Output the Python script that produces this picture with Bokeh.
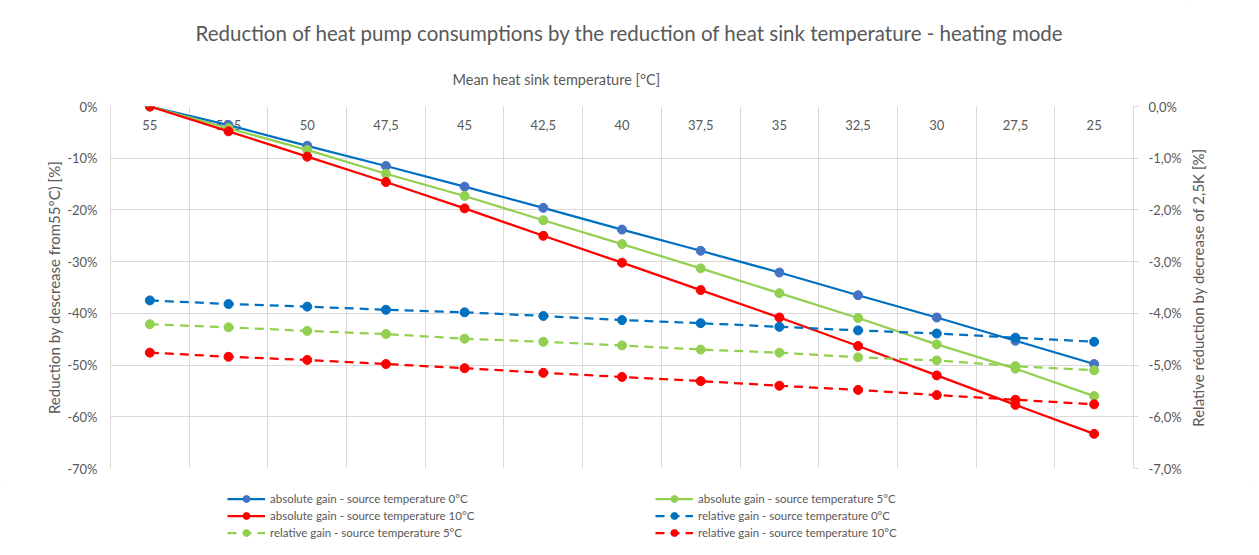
import math
from bokeh.plotting import figure
from bokeh.layouts import column, row
from bokeh.models import (Range1d, LinearAxis, FixedTicker, Grid, CustomJSTickFormatter,
                          Title, Legend, LegendItem, ColumnDataSource, Label)
from bokeh.core.properties import value
from bokeh.embed import file_html
from bokeh.resources import INLINE

# ---- data ----
temps = ["55", "52,5", "50", "47,5", "45", "42,5", "40", "37,5", "35", "32,5", "30", "27,5", "25"]
abs_0 = [0, -3.6, -7.6, -11.5, -15.5, -19.6, -23.8, -27.9, -32.1, -36.5, -40.8, -45.3, -49.8]
abs_5 = [0, -4.2, -8.4, -13.0, -17.3, -22.0, -26.6, -31.3, -36.1, -40.9, -46.0, -50.7, -56.0]
abs_10 = [0, -4.8, -9.7, -14.6, -19.7, -25.0, -30.2, -35.5, -40.8, -46.3, -52.0, -57.7, -63.3]
rel_0 = [-3.75, -3.82, -3.87, -3.93, -3.98, -4.05, -4.13, -4.19, -4.26, -4.33, -4.39, -4.47, -4.55]
rel_5 = [-4.21, -4.27, -4.34, -4.40, -4.49, -4.55, -4.62, -4.70, -4.76, -4.85, -4.91, -5.02, -5.10]
rel_10 = [-4.76, -4.84, -4.90, -4.98, -5.06, -5.15, -5.23, -5.31, -5.40, -5.48, -5.58, -5.67, -5.76]

title_text = "Reduction of heat pump consumptions by the reduction of heat sink temperature - heating mode"
x_title = "Mean heat sink temperature [°C]"
y_title = "Reduction by descrease from55°C) [%]"
y2_title = "Relative réduction by decrease of 2,5K [%]"
legend_labels = [
    "absolute gain - source temperature 0°C",
    "absolute gain - source temperature 5°C",
    "absolute gain - source temperature 10°C",
    "relative gain - source temperature 0°C",
    "relative gain - source temperature 5°C",
    "relative gain - source temperature 10°C",
]

FONT = "Lato"
TXT = "#595959"
GRID = "#d9d9d9"
BLUE = "#0070C0"
BLUE_M = "#4472C4"
GREEN = "#92D050"
RED = "#FF0000"

W = 1258
PW = 1185
H_MAIN = 480
H_LEG = 74

xs = [i + 0.5 for i in range(len(temps))]

p = figure(width=PW, height=H_MAIN, output_backend="svg", toolbar_location=None,
           x_range=Range1d(0, len(temps)), y_range=Range1d(-70, 0),
           x_axis_type=None, y_axis_location="left",
           min_border_left=110, min_border_right=PW - 1133, min_border_top=106,
           min_border_bottom=H_MAIN - 468)
p.outline_line_color = None
p.background_fill_color = "white"
p.border_fill_color = "white"
p.extra_y_ranges = {"rel": Range1d(-7, 0)}

# main title
p.title.text = title_text
p.title.align = "left"
p.title.offset = 85
p.title.text_font = FONT
p.title.text_font_size = "20.5px"
p.title.text_font_style = "normal"
p.title.text_color = TXT
p.title.standoff = 12

# top axis title (closest to the frame)
p.add_layout(Title(text=x_title, align="left", offset=342, text_font=FONT,
                   text_font_size="14.5px", text_font_style="normal", text_color=TXT,
                   standoff=37), "above")

# grids
p.ygrid.ticker = FixedTicker(ticks=[-70, -60, -50, -40, -30, -20, -10, 0])
p.ygrid.grid_line_color = GRID
p.ygrid.grid_line_width = 1
p.add_layout(Grid(dimension=0, ticker=FixedTicker(ticks=list(range(len(temps) + 1))),
                  grid_line_color=GRID, grid_line_width=1))

# left axis
ya = p.yaxis[0]
ya.ticker = FixedTicker(ticks=[-70, -60, -50, -40, -30, -20, -10, 0])
ya.formatter = CustomJSTickFormatter(code="return tick + '%';")
ya.axis_line_color = GRID
ya.major_tick_line_color = None
ya.major_tick_out = 0
ya.major_tick_in = 0
ya.minor_tick_line_color = None
ya.minor_tick_out = 0
ya.minor_tick_in = 0
ya.major_label_standoff = 13
ya.major_label_text_font = FONT
ya.major_label_text_font_size = "13px"
ya.major_label_text_color = TXT
ya.axis_label = y_title
ya.axis_label_text_font = FONT
ya.axis_label_text_font_size = "15px"
ya.axis_label_text_font_style = "normal"
ya.axis_label_text_color = TXT
ya.axis_label_standoff = 1

# right axis (its title is drawn in the strip to the right, reading upwards)
y2 = LinearAxis(y_range_name="rel",
                ticker=FixedTicker(ticks=[-7, -6, -5, -4, -3, -2, -1, 0]),
                formatter=CustomJSTickFormatter(code="return tick.toFixed(1).replace('.', ',') + '%';"),
                axis_line_color=GRID, major_tick_line_color=GRID, major_tick_out=5, major_tick_in=0,
                minor_tick_line_color=None, minor_tick_out=0, minor_tick_in=0,
                major_label_standoff=10,
                major_label_text_font=FONT, major_label_text_font_size="13px",
                major_label_text_color=TXT)
p.add_layout(y2, "right")

# category labels under top axis line
src_lab = ColumnDataSource(dict(x=xs, y=[0] * len(xs), t=temps))
p.text(x="x", y="y", text="t", source=src_lab, text_align="center", text_baseline="middle",
       y_offset=18, text_font=value(FONT), text_font_size="13px", text_color=TXT)

# series
series_def = [
    (abs_0, BLUE, BLUE_M, "solid", None),
    (abs_5, GREEN, GREEN, "solid", None),
    (abs_10, RED, RED, "solid", None),
    (rel_0, BLUE, BLUE, "9 6", "rel"),
    (rel_5, GREEN, GREEN, "9 6", "rel"),
    (rel_10, RED, RED, "9 6", "rel"),
]

for vals, color, mcolor, dash, rng in series_def:
    kw = {} if rng is None else {"y_range_name": rng}
    p.line(xs, vals, line_color=color, line_width=2.25, line_dash=dash, **kw)
    p.scatter(xs, vals, size=9, fill_color=mcolor, line_color=mcolor, **kw)

# ---- strip on the right holding the secondary axis title ----
r = figure(width=W - PW, height=H_MAIN, output_backend="svg", toolbar_location=None,
           x_range=Range1d(0, 1), y_range=Range1d(-7, 0),
           x_axis_type=None, y_axis_type=None,
           min_border_left=0, min_border_right=0, min_border_top=0, min_border_bottom=0)
r.outline_line_color = None
r.xgrid.visible = False
r.ygrid.visible = False
r.border_fill_color = "white"
r.background_fill_color = "white"
r.add_layout(Label(x=12, y=-3.5, x_units="screen", y_units="data", text=y2_title,
                   angle=math.pi / 2, text_align="center", text_baseline="middle",
                   text_font=FONT, text_font_size="15px", text_color=TXT))

# ---- legend strip below the chart (legend glyphs mirror the series styles) ----
q = figure(width=W, height=H_LEG, output_backend="svg", toolbar_location=None,
           x_range=Range1d(0, 1), y_range=Range1d(0, 1),
           x_axis_type=None, y_axis_type=None,
           min_border_left=0, min_border_right=0, min_border_top=0, min_border_bottom=0)
q.outline_line_color = None
q.xgrid.visible = False
q.ygrid.visible = False
q.border_fill_color = "white"
q.background_fill_color = "white"

items = []
for (vals, color, mcolor, dash, rng), lab in zip(series_def, legend_labels):
    l = q.line(xs, vals, line_color=color, line_width=2.25, line_dash=dash, visible=False)
    s = q.scatter(xs, vals, size=9, fill_color=mcolor, line_color=mcolor, visible=False)
    items.append(LegendItem(label=lab, renderers=[l, s]))

lg = Legend(items=items, location=(227, 13), orientation="horizontal", ncols=2,
            glyph_width=38, glyph_height=17, label_height=17, label_width=385, spacing=0,
            padding=0, margin=0, label_standoff=5,
            label_text_font=FONT, label_text_font_size="11.5px", label_text_color=TXT,
            background_fill_alpha=0, border_line_color=None)
q.add_layout(lg, "center")

lay = column(row(p, r, spacing=0), q, spacing=0,
             styles={"outline": "1px solid #d9d9d9", "outline-offset": "-6px"})
open("out.html", "w").write(file_html(lay, INLINE))
